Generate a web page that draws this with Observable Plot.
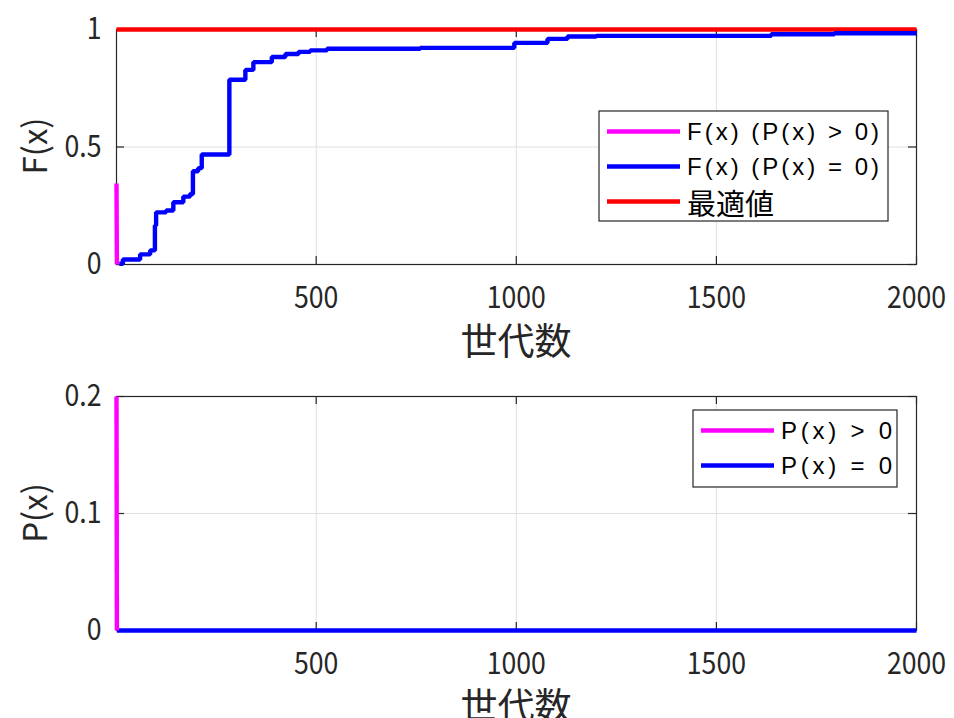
<!DOCTYPE html>
<html>
<head>
<meta charset="utf-8">
<script src="https://cdn.jsdelivr.net/npm/d3@7"></script>
<script src="https://cdn.jsdelivr.net/npm/@observablehq/plot@0.6"></script>
<style>
  html, body { margin: 0; padding: 0; background: #fff; }
  #chart { width: 954px; height: 718px; overflow: hidden; }
  #chart svg { display: block; }
</style>
</head>
<body>
<div id="chart"></div>
<script>
// Generation axis
const genDomain = [1, 2000];
const genTicks = [500, 1000, 1500, 2000];

// Upper panel: F(x) per generation
const fTicks = [0, 0.5, 1];
const fInfeasibleGen = [1, 2];
const fInfeasible = [0.345, 0];
const fFeasibleGen = [8, 17, 60, 85, 97, 100, 125, 143, 168, 185, 192, 205, 214, 283, 323, 343, 389, 423, 456, 485, 527, 760, 995, 1078, 1128, 1200, 1637, 1795, 2000];
const fFeasible = [0.003, 0.021, 0.043, 0.060, 0.166, 0.222, 0.230, 0.265, 0.289, 0.300, 0.397, 0.410, 0.468, 0.786, 0.828, 0.861, 0.883, 0.896, 0.905, 0.911, 0.918, 0.922, 0.943, 0.960, 0.970, 0.973, 0.980, 0.984, 0.984];
const optimumGen = [1, 2000];
const optimum = [1, 1];

// Lower panel: P(x) per generation
const pTicks = [0, 0.1, 0.2];
const pInfeasibleGen = [1, 2];
const pInfeasible = [0.2, 0];
const pFeasibleGen = [2, 2000];
const pFeasible = [0, 0];

// Legend entries
const fLegend = ["F(x) (P(x) > 0)", "F(x) (P(x) = 0)", "最適値"];
const pLegend = ["P(x) > 0", "P(x) = 0"];

const MAGENTA = "#ff00ff", BLUE = "#0000ff", RED = "#ff0000";
const AXIS = "#262626", GRID = "#e0e0e0";
const FONT = "'Noto Sans CJK JP', 'Noto Sans', sans-serif";
const LATIN = "'Liberation Sans', 'Noto Sans CJK JP', sans-serif";
const fmt = d3.format("~g");

const zip = (xs, ys) => xs.map((x, i) => ({x, y: ys[i]}));

function panel({height, marginTop, marginBottom, yDomain, yTicks, series}) {
  const W = 954, mL = 116, mR = 38;
  const innerW = W - mL - mR;
  const innerH = height - marginTop - marginBottom;
  const tick = 8;
  const svg = Plot.plot({
    width: W, height,
    marginLeft: mL, marginRight: mR, marginTop, marginBottom,
    x: {domain: genDomain},
    y: {domain: yDomain},
    style: {fontFamily: FONT, fontSize: "31px", color: AXIS, background: "transparent", overflow: "visible"},
    marks: [
      Plot.gridX({ticks: genTicks, stroke: GRID, strokeOpacity: 1}),
      Plot.gridY({ticks: yTicks, stroke: GRID, strokeOpacity: 1}),
      Plot.frame({stroke: AXIS, strokeWidth: 1.2}),
      Plot.tickX(genTicks, {x: d => d, stroke: AXIS, strokeWidth: 1.2, insetTop: innerH - tick}),
      Plot.tickX(genTicks, {x: d => d, stroke: AXIS, strokeWidth: 1.2, insetBottom: innerH - tick}),
      Plot.tickY(yTicks, {y: d => d, stroke: AXIS, strokeWidth: 1.2, insetRight: innerW - tick}),
      Plot.tickY(yTicks, {y: d => d, stroke: AXIS, strokeWidth: 1.2, insetLeft: innerW - tick}),
      Plot.axisX({ticks: genTicks, tickFormat: fmt, tickSize: 0, tickPadding: 21, label: null, fill: AXIS}),
      Plot.axisY({ticks: yTicks, tickFormat: fmt, tickSize: 0, tickPadding: 15, label: null, fill: AXIS}),
      ...series.map(s => Plot.line(s.data, {x: "x", y: "y", stroke: s.color, strokeWidth: 4.4, curve: s.curve, strokeLinejoin: "miter", strokeLinecap: "butt"}))
    ]
  });
  // narrow the tick-label digits around their own anchor points
  d3.select(svg).selectAll('g[aria-label$="tick label"] text').each(function() {
    const t = this.getAttribute("transform");
    if (t) this.setAttribute("transform", t + " scale(0.86,1)");
  });
  return svg;
}

function decorate(svg, {yLabel, yLabelY, xLabelY, legend}) {
  const g = d3.select(svg).append("g").attr("text-anchor", "start");
  g.append("text")
    .attr("transform", `translate(33,${yLabelY}) rotate(-90)`)
    .attr("text-anchor", "middle").attr("dominant-baseline", "central")
    .attr("font-family", FONT).attr("font-size", 33).attr("fill", AXIS)
    .text(yLabel);
  g.append("text")
    .attr("x", 516).attr("y", xLabelY)
    .attr("text-anchor", "middle").attr("dominant-baseline", "central")
    .attr("font-family", FONT).attr("font-size", 37).attr("fill", AXIS)
    .text("世代数");
  const L = legend;
  const lg = g.append("g");
  lg.append("rect").attr("x", L.x).attr("y", L.y).attr("width", L.w).attr("height", L.h)
    .attr("fill", "#fff").attr("stroke", AXIS).attr("stroke-width", 1.2);
  L.items.forEach((it, i) => {
    const cy = L.y + L.first + i * L.step;
    lg.append("line").attr("x1", L.x + 8).attr("x2", L.x + 81).attr("y1", cy).attr("y2", cy)
      .attr("stroke", it.color).attr("stroke-width", 4.4);
    const t = lg.append("text").attr("x", L.x + 88).attr("y", cy)
      .attr("text-anchor", "start").attr("dominant-baseline", "central").attr("fill", "#000")
      .attr("font-family", it.cjk ? FONT : LATIN).attr("font-size", it.cjk ? 29 : 24)
      .text(it.label);
    if (it.len) t.attr("textLength", it.len).attr("lengthAdjust", "spacing");
  });
}

const upperPanel = panel({
  height: 365, marginTop: 29, marginBottom: 101,
  yDomain: [0, 1], yTicks: fTicks,
  series: [
    {data: zip(optimumGen, optimum), color: RED, curve: "linear"},
    {data: zip(fFeasibleGen, fFeasible), color: BLUE, curve: "step-after"},
    {data: zip(fInfeasibleGen, fInfeasible), color: MAGENTA, curve: "linear"}
  ]
});
decorate(upperPanel, {
  yLabel: "F(x)", yLabelY: 146, xLabelY: 338.5,
  legend: {x: 599, y: 111, w: 289, h: 110, first: 20.5, step: 35,
    items: [
      {label: fLegend[0], color: MAGENTA, len: 192},
      {label: fLegend[1], color: BLUE, len: 192},
      {label: fLegend[2], color: RED, cjk: true}
    ]}
});

const lowerPanel = panel({
  height: 353, marginTop: 31, marginBottom: 88,
  yDomain: [0, 0.2], yTicks: pTicks,
  series: [
    {data: zip(pFeasibleGen, pFeasible), color: BLUE, curve: "linear"},
    {data: zip(pInfeasibleGen, pInfeasible), color: MAGENTA, curve: "linear"}
  ]
});
decorate(lowerPanel, {
  yLabel: "P(x)", yLabelY: 148, xLabelY: 338.5,
  legend: {x: 693, y: 45, w: 204, h: 77, first: 20.5, step: 35,
    items: [
      {label: pLegend[0], color: MAGENTA, len: 111},
      {label: pLegend[1], color: BLUE, len: 111}
    ]}
});

document.getElementById("chart").append(upperPanel, lowerPanel);
</script>
</body>
</html>
